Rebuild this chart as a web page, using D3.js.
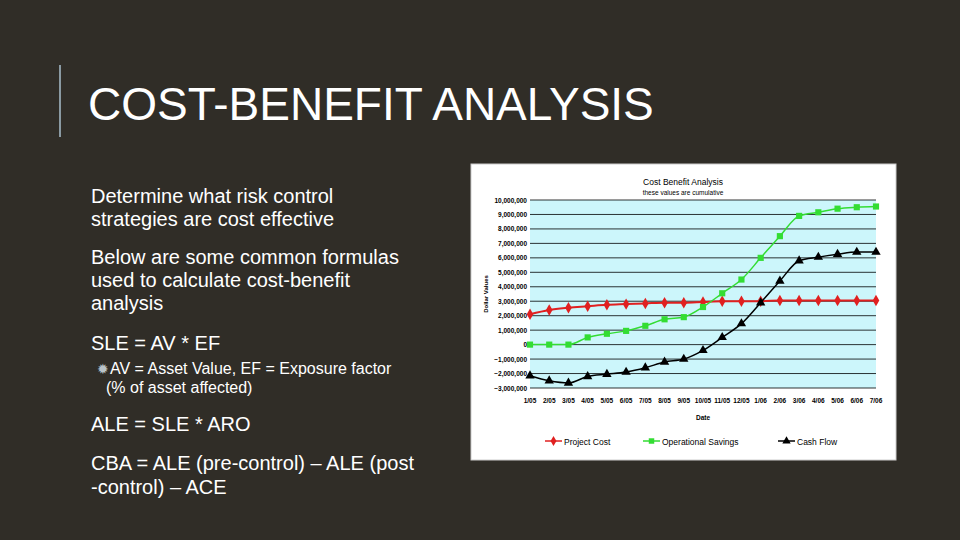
<!DOCTYPE html>
<html><head><meta charset="utf-8">
<script src="https://cdn.jsdelivr.net/npm/d3@7"></script>
<style>body{margin:0;background:#302d27;}svg{display:block;font-family:"Liberation Sans",Arial,sans-serif;}</style>
</head><body>
<svg id="s" width="960" height="540"></svg>
<script>
var months = ["1/05","2/05","3/05","4/05","5/05","6/05","7/05","8/05","9/05","10/05","11/05","12/05","1/06","2/06","3/06","4/06","5/06","6/06","7/06"];
var projectCost = [2.1,2.4,2.55,2.65,2.75,2.8,2.85,2.9,2.9,2.95,3.0,3.0,3.0,3.05,3.05,3.05,3.05,3.05,3.05];
var savings = [0,0,0,0.5,0.75,0.95,1.3,1.75,1.9,2.6,3.55,4.5,6.0,7.5,8.9,9.15,9.4,9.5,9.55];
var cashFlow = [-2.15,-2.5,-2.65,-2.2,-2.05,-1.9,-1.6,-1.2,-1.0,-0.4,0.5,1.45,2.9,4.4,5.8,6.05,6.25,6.4,6.4];
var yTicks = d3.range(-3, 11);

var svg = d3.select("#s");
var txt = "#ffffff";
svg.append("rect").attr("x",59).attr("y",65).attr("width",2).attr("height",72).attr("fill","#8a9aa3");
svg.append("text").attr("x",88).attr("y",120).attr("fill",txt).attr("font-size",46).text("COST-BENEFIT ANALYSIS");

var lines = [
  [91,203,20,"Determine what risk control"],[91,226,20,"strategies are cost effective"],
  [91,264,20,"Below are some common formulas"],[91,287,20,"used to calculate cost-benefit"],[91,310,20,"analysis"],
  [91,350,20,"SLE = AV * EF"],
  [110,374,16,"AV = Asset Value, EF = Exposure factor"],[106,393,16,"(% of asset affected)"],
  [91,431,20,"ALE = SLE * ARO"],
  [91,470,20,"CBA = ALE (pre-control) \u2013 ALE (post"],[91,494,20,"-control) \u2013 ACE"]];
svg.selectAll("text.b").data(lines).enter().append("text").attr("class","b")
  .attr("x",function(d){return d[0];}).attr("y",function(d){return d[1];})
  .attr("font-size",function(d){return d[2];}).attr("fill",txt).text(function(d){return d[3];});
svg.append("text").attr("x",97).attr("y",374).attr("font-size",14).attr("fill","#b9c3c8").text("\u2739");

// chart box
svg.append("rect").attr("x",471).attr("y",164).attr("width",425).attr("height",296).attr("fill","#fff").attr("stroke","#ccc");
var g = svg.append("g");
var x = d3.scalePoint().domain(months).range([530,876]);
var y = d3.scaleLinear().domain([-3,10]).range([388,200]);
g.append("rect").attr("x",530).attr("y",200).attr("width",346).attr("height",188).attr("fill","#ccf6fb");
g.selectAll("line.gr").data(yTicks).enter().append("line").attr("class","gr")
  .attr("x1",530).attr("x2",876).attr("y1",function(d){return y(d);}).attr("y2",function(d){return y(d);})
  .attr("stroke","#000").attr("stroke-width",0.8);
g.selectAll("text.yt").data(yTicks).enter().append("text").attr("class","yt")
  .attr("x",527).attr("y",function(d){return y(d)+2.5;}).attr("text-anchor","end").attr("font-size",6.5).attr("font-weight","bold")
  .text(function(d){return d3.format(",")(d*1000000);});
g.selectAll("text.xt").data(months).enter().append("text").attr("class","xt")
  .attr("x",function(d){return x(d);}).attr("y",403).attr("text-anchor","middle").attr("font-size",6.5).attr("font-weight","bold").text(function(d){return d;});
g.append("text").attr("x",703).attr("y",420).attr("text-anchor","middle").attr("font-size",6.5).attr("font-weight","bold").text("Date");
g.append("text").attr("transform","translate(488,294) rotate(-90)").attr("text-anchor","middle").attr("font-size",6).attr("font-weight","bold").text("Dollar Values");
g.append("text").attr("x",683).attr("y",185).attr("text-anchor","middle").attr("font-size",8.5).text("Cost Benefit Analysis");
g.append("text").attr("x",683).attr("y",195).attr("text-anchor","middle").attr("font-size",6.5).text("these values are cumulative");

var series = [
  {name:"Project Cost", vals:projectCost, color:"#e02020", sym:d3.symbolDiamond, lx:545},
  {name:"Operational Savings", vals:savings, color:"#33dd33", sym:d3.symbolSquare, lx:643},
  {name:"Cash Flow", vals:cashFlow, color:"#000", sym:d3.symbolTriangle, lx:778}];
var line = d3.line().x(function(d,i){return x(months[i]);}).y(function(d){return y(d);}).curve(d3.curveMonotoneX);
series.forEach(function(s){
  g.append("path").attr("d",line(s.vals)).attr("fill","none").attr("stroke",s.color).attr("stroke-width",s.color=="#e02020"?2:1.5);
  g.selectAll(null).data(s.vals).enter().append("path")
    .attr("d",d3.symbol().type(s.sym).size(38))
    .attr("transform",function(d,i){return "translate("+x(months[i])+","+y(d)+")";}).attr("fill",s.color);
  g.append("line").attr("x1",s.lx).attr("x2",s.lx+17).attr("y1",441).attr("y2",441).attr("stroke",s.color).attr("stroke-width",1.5);
  g.append("path").attr("d",d3.symbol().type(s.sym).size(30)).attr("transform","translate("+(s.lx+8.5)+",441)").attr("fill",s.color);
  g.append("text").attr("x",s.lx+19).attr("y",444.5).attr("font-size",8.5).text(s.name);
});
</script>
</body></html>
